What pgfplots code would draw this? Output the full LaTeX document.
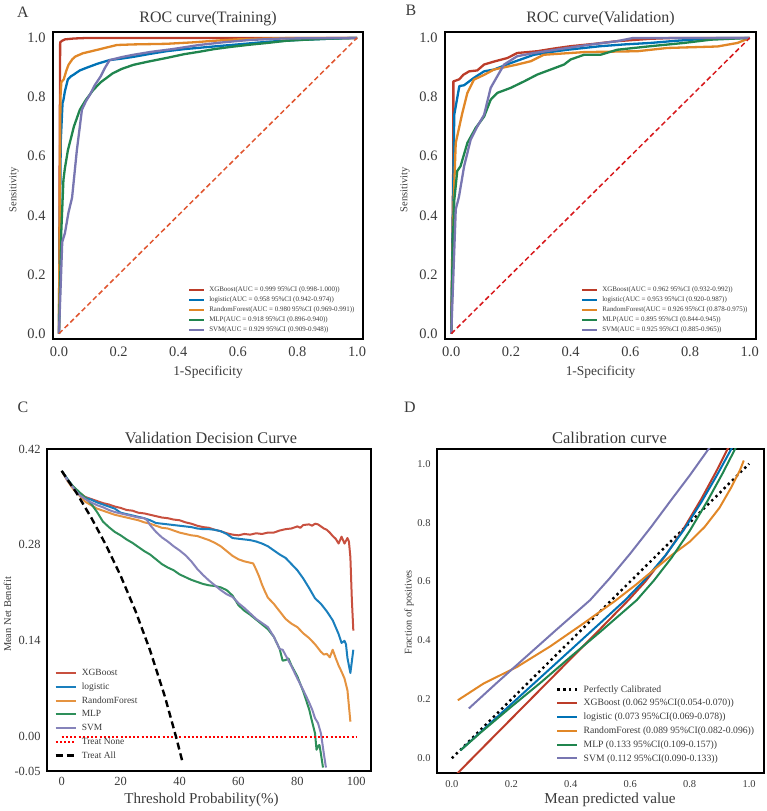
\documentclass[border=0pt]{standalone}
\usepackage{pgfplots}
\pgfplotsset{compat=1.18}
\usepackage{fontspec}
\setmainfont{Liberation Serif}

\definecolor{cXGB}{HTML}{BC3C29}
\definecolor{cLR}{HTML}{0072B5}
\definecolor{cRF}{HTML}{E18727}
\definecolor{cMLP}{HTML}{20854E}
\definecolor{cSVM}{HTML}{7876B1}
\definecolor{dXGB}{HTML}{C8503F}
\definecolor{dLR}{HTML}{1A7FBD}
\definecolor{dRF}{HTML}{E59340}
\definecolor{dMLP}{HTML}{2E8F5A}
\definecolor{dSVM}{HTML}{8683BA}
\definecolor{txt}{HTML}{3A3A3A}
\definecolor{diagA}{HTML}{E0552F}
\definecolor{diagB}{HTML}{D7191C}

\tikzset{
  rocline/.style={line width=2.3bp, line join=round},
  dcaline/.style={line width=2bp, line join=round},
  calline/.style={line width=2bp, line join=round},
}

\pgfplotsset{
  panel/.style={
    scale only axis, anchor=south west,
    axis line style={black, line width=1.6bp},
    tick style={draw=none},
    ticklabel style={text=txt},
    /pgf/number format/assume math mode=true,
    legend cell align=left,
  },
  rocleg/.style={
    legend image code/.code={\draw[##1] (0bp,0bp) -- (15bp,0bp);},
    legend style={draw=none, fill=none, at={(0.985,0.005)}, anchor=south east,
      font=\fontsize{7}{8.5}\selectfont, text=txt,
      nodes={inner sep=0.75bp, minimum height=10bp},
      row sep=0bp, column sep=3bp},
  },
}

\begin{document}
\begin{tikzpicture}
\path[use as bounding box] (0,0) rectangle (767bp,811bp);

% ---------------- A: ROC, training ----------------
\begin{axis}[panel, rocleg, at={(53bp,472bp)}, width=310bp, height=307bp,
  xmin=-0.02, xmax=1.02, ymin=-0.018, ymax=1.02,
  xtick={0,0.2,0.4,0.6,0.8,1}, ytick={0,0.2,0.4,0.6,0.8,1},
  ticklabel style={font=\fontsize{14.5}{14.5}\selectfont,
    /pgf/number format/fixed, /pgf/number format/fixed zerofill,
    /pgf/number format/precision=1},
  xticklabel style={yshift=-4bp}, yticklabel style={xshift=-4bp}]
\addplot[cXGB, rocline] coordinates {(0,0) (0.004,0.985) (0.01,0.99) (0.02,0.995) (0.05,0.998) (0.1,1) (1,1)};
\addlegendentry{XGBoost(AUC = 0.999 95\%CI (0.998-1.000))}
\addplot[cLR, rocline] coordinates {(0,0) (0.006,0.65) (0.012,0.78) (0.015,0.79) (0.02,0.82) (0.03,0.86) (0.04,0.87) (0.048,0.875) (0.07,0.89) (0.095,0.90) (0.13,0.913) (0.17,0.925) (0.21,0.93) (0.25,0.936) (0.3,0.945) (0.36,0.955) (0.42,0.962) (0.53,0.972) (0.6,0.978) (0.7,0.987) (0.8,0.993) (0.9,0.997) (1,1)};
\addlegendentry{logistic(AUC = 0.958 95\%CI (0.942-0.974))}
\addplot[cRF, rocline] coordinates {(0,0) (0.005,0.80) (0.008,0.85) (0.016,0.86) (0.025,0.89) (0.032,0.909) (0.045,0.928) (0.055,0.937) (0.08,0.948) (0.105,0.954) (0.15,0.965) (0.194,0.976) (0.25,0.978) (0.36,0.98) (0.45,0.985) (0.53,0.991) (0.6,0.995) (0.7,0.998) (0.8,1) (1,1)};
\addlegendentry{RandomForest(AUC = 0.980 95\%CI (0.969-0.991))}
\addplot[cMLP, rocline] coordinates {(0,0) (0.008,0.35) (0.015,0.52) (0.02,0.56) (0.03,0.62) (0.05,0.70) (0.07,0.757) (0.09,0.79) (0.115,0.824) (0.14,0.85) (0.16,0.865) (0.18,0.88) (0.21,0.895) (0.25,0.909) (0.3,0.92) (0.36,0.932) (0.42,0.945) (0.47,0.953) (0.52,0.962) (0.58,0.97) (0.64,0.977) (0.70,0.983) (0.76,0.99) (0.81,0.993) (0.92,0.998) (1,1)};
\addlegendentry{MLP(AUC = 0.918 95\%CI (0.896-0.940))}
\addplot[cSVM, rocline] coordinates {(0,0) (0.011,0.31) (0.02,0.34) (0.032,0.41) (0.044,0.46) (0.052,0.54) (0.06,0.62) (0.07,0.70) (0.077,0.757) (0.09,0.785) (0.105,0.81) (0.12,0.84) (0.14,0.87) (0.155,0.90) (0.17,0.925) (0.21,0.935) (0.25,0.943) (0.31,0.953) (0.38,0.962) (0.47,0.976) (0.55,0.985) (0.64,0.993) (0.75,0.998) (1,1)};
\addlegendentry{SVM(AUC = 0.929 95\%CI (0.909-0.948))}
\addplot[diagA, line width=1.5bp, dash pattern=on 5bp off 3bp, forget plot] coordinates {(0,0) (1,1)};
\end{axis}

% ---------------- B: ROC, validation ----------------
\begin{axis}[panel, rocleg, at={(445bp,472bp)}, width=311bp, height=307bp,
  xmin=-0.021, xmax=1.021, ymin=-0.018, ymax=1.02,
  xtick={0,0.2,0.4,0.6,0.8,1}, ytick={0,0.2,0.4,0.6,0.8,1},
  ticklabel style={font=\fontsize{14.5}{14.5}\selectfont,
    /pgf/number format/fixed, /pgf/number format/fixed zerofill,
    /pgf/number format/precision=1},
  xticklabel style={yshift=-4bp}, yticklabel style={xshift=-4bp}]
\addplot[cXGB, rocline] coordinates {(0,0) (0.007,0.60) (0.007,0.853) (0.027,0.86) (0.04,0.875) (0.06,0.887) (0.087,0.89) (0.11,0.91) (0.143,0.92) (0.188,0.932) (0.221,0.949) (0.288,0.955) (0.35,0.965) (0.40,0.972) (0.48,0.98) (0.556,0.989) (0.668,0.997) (0.75,1) (1,1)};
\addlegendentry{XGBoost(AUC = 0.962 95\%CI (0.932-0.992))}
\addplot[cLR, rocline] coordinates {(0,0) (0.01,0.74) (0.027,0.837) (0.043,0.84) (0.076,0.865) (0.11,0.887) (0.143,0.893) (0.199,0.915) (0.277,0.943) (0.33,0.952) (0.39,0.96) (0.50,0.972) (0.58,0.978) (0.668,0.983) (0.75,0.99) (0.836,0.996) (0.9,1) (1,1)};
\addlegendentry{logistic(AUC = 0.953 95\%CI (0.920-0.987))}
\addplot[cRF, rocline] coordinates {(0,0) (0.008,0.45) (0.015,0.645) (0.037,0.746) (0.054,0.814) (0.076,0.859) (0.11,0.875) (0.143,0.893) (0.221,0.91) (0.266,0.921) (0.31,0.943) (0.445,0.952) (0.624,0.955) (0.724,0.966) (0.892,0.971) (0.959,0.983) (1,1)};
\addlegendentry{RandomForest(AUC = 0.926 95\%CI (0.878-0.975))}
\addplot[cMLP, rocline] coordinates {(0,0) (0.005,0.30) (0.01,0.45) (0.02,0.55) (0.031,0.566) (0.054,0.645) (0.082,0.696) (0.11,0.734) (0.132,0.791) (0.154,0.814) (0.199,0.831) (0.244,0.853) (0.288,0.876) (0.333,0.893) (0.378,0.91) (0.40,0.927) (0.445,0.943) (0.50,0.943) (0.556,0.96) (0.668,0.972) (0.78,0.983) (0.87,0.994) (1,1)};
\addlegendentry{MLP(AUC = 0.895 95\%CI (0.844-0.945))}
\addplot[cSVM, rocline] coordinates {(0,0) (0.015,0.42) (0.026,0.464) (0.043,0.566) (0.065,0.656) (0.087,0.70) (0.11,0.74) (0.132,0.831) (0.154,0.87) (0.177,0.91) (0.221,0.938) (0.277,0.949) (0.389,0.966) (0.47,0.978) (0.556,0.989) (0.61,1) (1,1)};
\addlegendentry{SVM(AUC = 0.925 95\%CI (0.885-0.965))}
\addplot[diagB, line width=1.5bp, dash pattern=on 5bp off 3bp, forget plot] coordinates {(0,0) (1,1)};
\end{axis}

% ---------------- C: decision curve ----------------
\begin{axis}[panel, at={(47bp,40bp)}, width=324bp, height=322bp,
  xmin=-5, xmax=105, ymin=-0.05, ymax=0.42,
  xtick={0,20,40,60,80,100}, ytick={-0.05,0,0.14,0.28,0.42},
  ticklabel style={font=\fontsize{12.5}{12.5}\selectfont},
  yticklabel style={xshift=-3bp, /pgf/number format/fixed,
    /pgf/number format/fixed zerofill, /pgf/number format/precision=2},
  xticklabel style={yshift=-3bp},
  legend image code/.code={\draw[#1] (0bp,0bp) -- (20bp,0bp);},
  legend style={draw=none, fill=none, at={(0.013,0.02)}, anchor=south west,
    font=\fontsize{9.5}{11.5}\selectfont, text=txt,
    nodes={inner sep=1bp, minimum height=13.7bp},
    row sep=0bp, column sep=4bp}]
\addplot[dXGB, dcaline] coordinates {(0,0.388) (2,0.375) (4,0.364) (6,0.356) (8,0.350) (10,0.347) (12,0.344) (14,0.341) (16,0.339) (18,0.336) (20,0.334) (22,0.331) (24,0.330) (26,0.327) (28,0.326) (30,0.324) (32,0.322) (34,0.320) (36,0.319) (38,0.317) (40,0.316) (42,0.313) (44,0.311) (46,0.308) (48,0.306) (50,0.305) (52,0.302) (54,0.300) (56,0.297) (58,0.295) (60,0.294) (62,0.296) (64,0.295) (66,0.297) (68,0.296) (70,0.298) (72,0.298) (74,0.301) (76,0.303) (78,0.304) (80,0.307) (81,0.305) (82,0.309) (84,0.310) (85,0.308) (86,0.311) (87,0.310) (88,0.307) (89,0.304) (90,0.302) (91,0.298) (92,0.293) (93,0.289) (94,0.282) (95,0.292) (96,0.282) (97,0.290) (97.5,0.285) (98,0.262) (98.5,0.20) (99,0.155)};
\addlegendentry{XGBoost}
\addplot[dLR, dcaline] coordinates {(0,0.388) (2,0.376) (4,0.364) (6,0.354) (8,0.349) (10,0.346) (12,0.342) (14,0.339) (16,0.336) (18,0.333) (20,0.327) (22,0.325) (24,0.323) (26,0.321) (28,0.319) (30,0.316) (32,0.312) (34,0.311) (36,0.310) (38,0.309) (40,0.308) (42,0.307) (44,0.306) (46,0.304) (48,0.303) (50,0.303) (52,0.302) (54,0.300) (56,0.296) (58,0.290) (60,0.289) (62,0.288) (64,0.287) (66,0.285) (68,0.282) (70,0.278) (72,0.272) (74,0.266) (76,0.261) (78,0.252) (80,0.243) (82,0.231) (84,0.217) (86,0.202) (88,0.194) (90,0.183) (92,0.170) (93,0.160) (94,0.150) (95,0.137) (96,0.140) (96.5,0.135) (97,0.115) (98,0.093) (99,0.127)};
\addlegendentry{logistic}
\addplot[dRF, dcaline] coordinates {(0,0.388) (2,0.373) (4,0.361) (6,0.352) (8,0.343) (10,0.338) (12,0.333) (14,0.330) (16,0.327) (18,0.324) (20,0.322) (22,0.320) (24,0.318) (26,0.316) (28,0.313) (30,0.311) (32,0.308) (34,0.305) (36,0.304) (38,0.301) (40,0.298) (42,0.296) (44,0.294) (46,0.293) (48,0.290) (50,0.287) (52,0.283) (54,0.278) (56,0.271) (58,0.264) (60,0.259) (62,0.256) (64,0.254) (65,0.253) (66,0.244) (67,0.234) (68,0.222) (69,0.212) (70,0.203) (72,0.194) (74,0.183) (76,0.172) (78,0.165) (80,0.160) (82,0.151) (84,0.144) (86,0.135) (88,0.124) (89,0.120) (90,0.121) (91,0.116) (92,0.127) (93,0.115) (94,0.104) (95,0.095) (96,0.085) (97,0.068) (98,0.022)};
\addlegendentry{RandomForest}
\addplot[dMLP, dcaline] coordinates {(0,0.388) (2,0.375) (4,0.365) (6,0.357) (8,0.349) (10,0.340) (12,0.328) (14,0.314) (16,0.306) (18,0.299) (20,0.294) (22,0.288) (24,0.283) (26,0.277) (28,0.271) (30,0.266) (32,0.259) (34,0.252) (36,0.247) (38,0.243) (40,0.237) (42,0.233) (44,0.229) (46,0.226) (48,0.223) (50,0.221) (52,0.220) (54,0.218) (56,0.214) (58,0.206) (60,0.192) (62,0.184) (64,0.178) (66,0.171) (68,0.164) (70,0.157) (72,0.146) (74,0.128) (75,0.111) (76,0.112) (77,0.114) (78,0.104) (80,0.088) (82,0.066) (84,0.040) (85,0.022) (86,0.005) (86.5,-0.019) (87,-0.014) (87.5,-0.012) (88,-0.025) (88.7,-0.045)};
\addlegendentry{MLP}
\addplot[dSVM, dcaline] coordinates {(0,0.388) (2,0.374) (4,0.363) (6,0.353) (8,0.347) (10,0.342) (12,0.338) (14,0.335) (16,0.331) (18,0.328) (20,0.326) (22,0.324) (24,0.322) (26,0.320) (28,0.319) (29,0.316) (30,0.309) (32,0.299) (34,0.291) (36,0.285) (38,0.278) (40,0.272) (42,0.265) (44,0.256) (46,0.245) (48,0.236) (50,0.228) (52,0.221) (54,0.214) (56,0.208) (58,0.204) (60,0.195) (62,0.188) (64,0.180) (66,0.172) (68,0.166) (70,0.160) (72,0.146) (74,0.128) (75,0.127) (76,0.119) (78,0.103) (80,0.085) (82,0.068) (84,0.050) (85,0.040) (86,0.027) (87,0.020) (88,0.005) (88.5,-0.010) (89,-0.025) (89.7,-0.045)};
\addlegendentry{SVM}
\addplot[red, line width=2bp, dash pattern=on 2bp off 2.2bp] coordinates {(0,0) (100,0)};
\addlegendentry{Treat None}
\addplot[black, line width=2.4bp, dash pattern=on 7bp off 4bp] coordinates {(0,0.388) (5,0.356) (10,0.320) (15,0.280) (20,0.235) (25,0.184) (30,0.126) (35,0.059) (38.8,0.000) (40,-0.020) (41,-0.037)};
\addlegendentry{Treat All}
\end{axis}

% ---------------- D: calibration ----------------
\begin{axis}[panel, at={(437bp,38bp)}, width=327bp, height=324bp,
  xmin=-0.05, xmax=1.05, ymin=-0.05, ymax=1.05,
  xtick={0,0.2,0.4,0.6,0.8,1}, ytick={0,0.2,0.4,0.6,0.8,1},
  ticklabel style={font=\fontsize{10.5}{10.5}\selectfont,
    /pgf/number format/fixed, /pgf/number format/fixed zerofill,
    /pgf/number format/precision=1},
  xticklabel style={yshift=-4bp}, yticklabel style={xshift=-3bp},
  legend image code/.code={\draw[#1] (0bp,0bp) -- (20bp,0bp);},
  legend style={draw=none, fill=none, at={(0.355,0.017)}, anchor=south west,
    font=\fontsize{9.7}{11.8}\selectfont, text=txt,
    nodes={inner sep=1bp, minimum height=13.8bp},
    row sep=0bp, column sep=4bp}]
\addplot[black, line width=2.4bp, dash pattern=on 2.4bp off 3.4bp] coordinates {(0,0) (1,1)};
\addlegendentry{Perfectly Calibrated}
\addplot[cXGB, calline] coordinates {(0.018,-0.052) (0.1,0.032) (0.2,0.134) (0.3,0.236) (0.4,0.338) (0.5,0.44) (0.594,0.537) (0.65,0.599) (0.72,0.69) (0.78,0.78) (0.84,0.882) (0.89,0.975) (0.935,1.065) (0.96,1.12)};
\addlegendentry{XGBoost (0.062 95\%CI(0.054-0.070))}
\addplot[cLR, calline] coordinates {(0.029,0.027) (0.1,0.092) (0.2,0.184) (0.3,0.276) (0.4,0.368) (0.5,0.46) (0.583,0.537) (0.65,0.607) (0.72,0.691) (0.78,0.775) (0.84,0.871) (0.89,0.958) (0.94,1.05) (0.96,1.09)};
\addlegendentry{logistic (0.073 95\%CI(0.069-0.078))}
\addplot[cRF, calline] coordinates {(0.02,0.197) (0.107,0.254) (0.219,0.31) (0.331,0.38) (0.443,0.458) (0.55,0.535) (0.62,0.59) (0.68,0.64) (0.74,0.69) (0.80,0.735) (0.85,0.785) (0.90,0.85) (0.94,0.92) (0.97,0.98) (0.982,1.011)};
\addlegendentry{RandomForest (0.089 95\%CI(0.082-0.096))}
\addplot[cMLP, calline] coordinates {(0.029,0.027) (0.1,0.09) (0.2,0.175) (0.3,0.258) (0.4,0.345) (0.5,0.43) (0.622,0.537) (0.68,0.604) (0.74,0.682) (0.80,0.772) (0.86,0.874) (0.91,0.966) (0.963,1.07)};
\addlegendentry{MLP (0.133 95\%CI(0.109-0.157))}
\addplot[cSVM, calline] coordinates {(0.057,0.169) (0.15,0.255) (0.25,0.345) (0.35,0.435) (0.465,0.537) (0.53,0.61) (0.6,0.695) (0.67,0.785) (0.74,0.88) (0.80,0.96) (0.874,1.065)};
\addlegendentry{SVM (0.112 95\%CI(0.090-0.133))}
\end{axis}

% ---------------- titles, axis labels, panel letters ----------------
\begin{scope}[every node/.style={text=txt}]
\node[font=\fontsize{16}{16}\selectfont] at (23bp,799bp) {A};
\node[font=\fontsize{16}{16}\selectfont] at (411bp,801bp) {B};
\node[font=\fontsize{16}{16}\selectfont] at (23bp,404bp) {C};
\node[font=\fontsize{16}{16}\selectfont] at (410bp,404bp) {D};

\node[font=\fontsize{16}{16}\selectfont] at (208bp,792bp) {ROC curve(Training)};
\node[font=\fontsize{16}{16}\selectfont] at (600.5bp,792bp) {ROC curve(Validation)};
\node[font=\fontsize{16.3}{16.3}\selectfont] at (211bp,373bp) {Validation Decision Curve};
\node[font=\fontsize{16.5}{16.5}\selectfont] at (609.5bp,373bp) {Calibration curve};

\node[font=\fontsize{13.5}{13.5}\selectfont] at (208bp,439bp) {1-Specificity};
\node[font=\fontsize{13.5}{13.5}\selectfont] at (600.5bp,439bp) {1-Specificity};
\node[font=\fontsize{15.1}{15.1}\selectfont] at (201.5bp,11bp) {Threshold Probability(\%)};
\node[font=\fontsize{15.2}{15.2}\selectfont] at (610bp,11bp) {Mean predicted value};

\node[font=\fontsize{10.5}{10.5}\selectfont, rotate=90] at (14bp,621bp) {Sensitivity};
\node[font=\fontsize{10.5}{10.5}\selectfont, rotate=90] at (405bp,621bp) {Sensitivity};
\node[font=\fontsize{10.5}{10.5}\selectfont, rotate=90] at (7.5bp,196.5bp) {Mean Net Benefit};
\node[font=\fontsize{10.3}{10.3}\selectfont, rotate=90] at (409bp,198.5bp) {Fraction of positives};
\end{scope}
\end{tikzpicture}
\end{document}
